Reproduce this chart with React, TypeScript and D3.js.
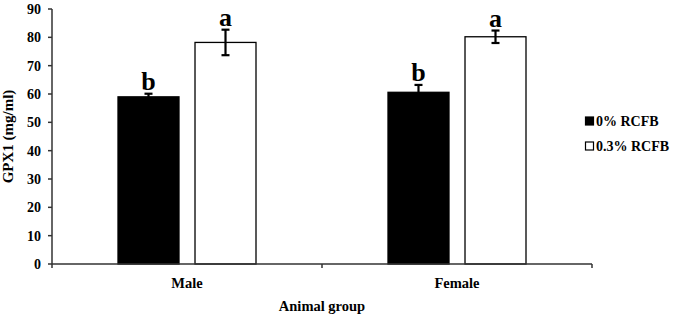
import React from "react";
import * as d3 from "d3";

const categories = ["Male", "Female"];
const seriesNames = ["0% RCFB", "0.3% RCFB"];
const values0 = [59, 60.6];
const values03 = [78.2, 80.2];
const errors0 = [1.1, 2.6];
const errors03 = [4.5, 2.2];
const letters0 = ["b", "b"];
const letters03 = ["a", "a"];
const yTicks = [0, 10, 20, 30, 40, 50, 60, 70, 80, 90];

const W = 673;
const H = 315;
const left = 52;
const right = 592;
const top = 9;
const bottom = 264;
const font = "'Liberation Serif', 'Times New Roman', serif";

export default function App() {
  const y = d3.scaleLinear().domain([0, 90]).range([bottom, top]);
  const x0 = d3.scaleBand<string>().domain(categories).range([left, right]).padding(0);
  const bw = x0.bandwidth();
  const groupPad = 66;
  const x1 = d3
    .scaleBand<string>()
    .domain(seriesNames)
    .range([0, bw - 2 * groupPad])
    .paddingInner(0.208)
    .paddingOuter(0);
  const fills = ["#000", "#fff"];
  const series = [
    { name: seriesNames[0], values: values0, errors: errors0, letters: letters0 },
    { name: seriesNames[1], values: values03, errors: errors03, letters: letters03 },
  ];

  return (
    <div style={{ position: "absolute", left: 0, top: 0 }}>
      <svg width={W} height={H} style={{ display: "block", background: "#fff" }}>
        {/* bars */}
        {categories.map((c, ci) => (
          <g key={c} transform={`translate(${(x0(c) as number) + groupPad},0)`}>
            {series.map((s, si) => {
              const bx = x1(s.name) as number;
              const v = s.values[ci];
              const e = s.errors[ci];
              const cx = bx + x1.bandwidth() / 2;
              return (
                <g key={s.name}>
                  <rect
                    x={bx}
                    y={y(v)}
                    width={x1.bandwidth()}
                    height={y(0) - y(v)}
                    fill={fills[si]}
                    stroke="#000"
                    strokeWidth={1.3}
                  />
                  <line x1={cx} x2={cx} y1={y(v + e)} y2={y(v - e)} stroke="#000" strokeWidth={2.2} />
                  <line x1={cx - 4} x2={cx + 4} y1={y(v + e)} y2={y(v + e)} stroke="#000" strokeWidth={2.2} />
                  <line x1={cx - 4} x2={cx + 4} y1={y(v - e)} y2={y(v - e)} stroke="#000" strokeWidth={2.2} />
                  <text
                    x={cx}
                    y={y(v + e) - 4}
                    textAnchor="middle"
                    fontFamily={font}
                    fontWeight="bold"
                    fontSize={26}
                    fill="#000"
                  >
                    {s.letters[ci]}
                  </text>
                </g>
              );
            })}
          </g>
        ))}

        {/* y axis */}
        <line x1={left} x2={left} y1={top} y2={bottom} stroke="#333" strokeWidth={1.5} />
        {yTicks.map((t) => (
          <g key={t}>
            <line x1={left - 4} x2={left} y1={y(t)} y2={y(t)} stroke="#333" strokeWidth={1.5} />
            <text
              x={left - 11}
              y={y(t)}
              dy="0.35em"
              textAnchor="end"
              fontFamily={font}
              fontWeight="bold"
              fontSize={14}
              fill="#000"
            >
              {t}
            </text>
          </g>
        ))}

        {/* x axis */}
        <line x1={left} x2={right} y1={bottom} y2={bottom} stroke="#333" strokeWidth={1.5} />
        {[...categories.map((c) => x0(c) as number), right].map((tx, i) => (
          <line key={i} x1={tx} x2={tx} y1={bottom} y2={bottom + 4} stroke="#333" strokeWidth={1.5} />
        ))}
        {categories.map((c) => (
          <text
            key={c}
            x={(x0(c) as number) + bw / 2}
            y={288}
            textAnchor="middle"
            fontFamily={font}
            fontWeight="bold"
            fontSize={14.5}
            fill="#000"
          >
            {c}
          </text>
        ))}
        <text
          x={(left + right) / 2}
          y={311}
          textAnchor="middle"
          fontFamily={font}
          fontWeight="bold"
          fontSize={14.5}
          fill="#000"
        >
          Animal group
        </text>
        <text
          transform={`translate(13,${(top + bottom) / 2}) rotate(-90)`}
          textAnchor="middle"
          fontFamily={font}
          fontWeight="bold"
          fontSize={15}
          fill="#000"
        >
          GPX1 (mg/ml)
        </text>

        {/* legend */}
        {series.map((s, si) => (
          <g key={s.name} transform={`translate(585,${121 + si * 25})`}>
            <rect x={0.5} y={-4} width={8} height={8} fill={fills[si]} stroke="#000" strokeWidth={1.2} />
            <text
              x={11}
              y={0}
              dy="0.35em"
              fontFamily={font}
              fontWeight="bold"
              fontSize={14}
              fill="#000"
            >
              {s.name}
            </text>
          </g>
        ))}
      </svg>
    </div>
  );
}
